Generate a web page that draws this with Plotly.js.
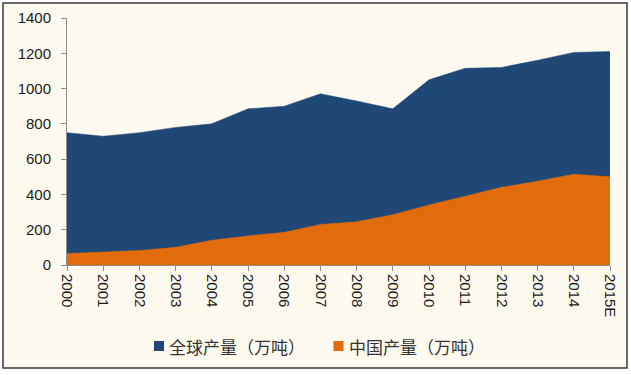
<!DOCTYPE html>
<html>
<head>
<meta charset="utf-8">
<script src="https://cdn.plot.ly/plotly-3.0.1.min.js"></script>
<style>html,body{margin:0;padding:0;background:#fff;}#chart{width:631px;height:375px;}</style>
</head>
<body>
<div id="chart"></div>
<script>
var years = ["2000","2001","2002","2003","2004","2005","2006","2007","2008","2009","2010","2011","2012","2013","2014","2015E"];
var globalOutput = [750,730,750,780,800,885,900,970,930,885,1050,1115,1120,1160,1205,1210];
var chinaOutput = [65,72,82,100,140,165,185,230,245,285,340,390,440,475,515,500];
var globalName = "全球产量（万吨）";
var chinaName = "中国产量（万吨）";
var yTicks = [0,200,400,600,800,1000,1200,1400];
var globalColor = "#1F4877";
var chinaColor = "#E26B0A";

var traces = [
  {x: years, y: globalOutput, name: globalName, type: "scatter", mode: "lines",
   fill: "tozeroy", fillcolor: globalColor, line: {color: globalColor, width: 0.5}, showlegend: false},
  {x: years, y: chinaOutput, name: chinaName, type: "scatter", mode: "lines",
   fill: "tozeroy", fillcolor: chinaColor, line: {color: chinaColor, width: 0.5}, showlegend: false}
];

// plot area: x 67..610 px, y 18..265 px
function px(v){ return (v - 67) / 543; }
function py(v){ return (265 - v) / 247; }

var legendFont = {family: "Noto Sans CJK SC, sans-serif", size: 17, color: "#333333"};

var layout = {
  width: 631, height: 375,
  margin: {l: 67, r: 21, t: 18, b: 110},
  paper_bgcolor: "#ffffff",
  plot_bgcolor: "rgba(0,0,0,0)",
  font: {family: "Liberation Sans, Arial, sans-serif", size: 15, color: "#1a1a1a"},
  showlegend: false,
  xaxis: {type: "category", range: [0, years.length - 1], tickangle: 90,
          showgrid: false, zeroline: false, showline: true, linecolor: "#8c8c8c", linewidth: 1,
          ticks: "outside", ticklen: 5, tickcolor: "#8c8c8c", tickfont: {size: 15}, fixedrange: true},
  yaxis: {range: [0, 1400], tickvals: yTicks, showgrid: false, zeroline: false,
          showline: true, linecolor: "#8c8c8c", linewidth: 1, ticks: "outside", ticklen: 5,
          tickcolor: "#8c8c8c", tickfont: {size: 15}, ticklabelstandoff: 7, fixedrange: true},
  shapes: [
    {type: "rect", xref: "paper", yref: "paper", x0: px(3), x1: px(627), y0: py(368), y1: py(3),
     fillcolor: "#FFFAF0", line: {color: "#3a3a3a", width: 1.5}, layer: "below"},
    {type: "rect", xref: "paper", yref: "paper", x0: px(154), x1: px(164), y0: py(351), y1: py(341),
     fillcolor: globalColor, line: {width: 0}},
    {type: "rect", xref: "paper", yref: "paper", x0: px(333.5), x1: px(343.5), y0: py(351), y1: py(341),
     fillcolor: chinaColor, line: {width: 0}}
  ],
  annotations: [
    {xref: "paper", yref: "paper", x: px(167), y: py(346), xanchor: "left", yanchor: "middle",
     text: globalName, showarrow: false, font: legendFont},
    {xref: "paper", yref: "paper", x: px(347), y: py(346), xanchor: "left", yanchor: "middle",
     text: chinaName, showarrow: false, font: legendFont}
  ]
};

Plotly.newPlot("chart", traces, layout, {displayModeBar: false, staticPlot: true});
</script>
</body>
</html>
